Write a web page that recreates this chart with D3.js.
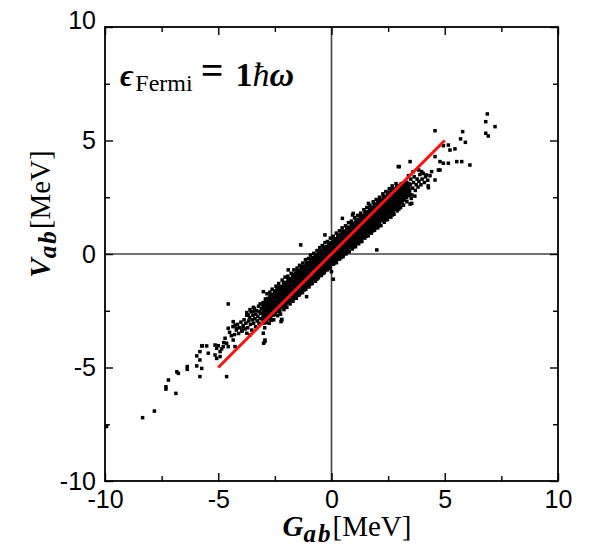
<!DOCTYPE html>
<html>
<head>
<meta charset="utf-8">
<script src="https://cdn.jsdelivr.net/npm/d3@7"></script>
<style>
  body { margin: 0; background: #fff; }
</style>
</head>
<body>
<div id="chart"></div>
<script>
// tick values
const majorTicks = [-10, -5, 0, 5, 10];
const minorTicks = [-7.5, -2.5, 2.5, 7.5];

// red reference line V = G
const fitG = [-5, 5];
const fitV = [-5, 5];

// dense middle of the cloud, one G column with its V values
const coreCols = [
  [-3.0, [-3.02,-2.84,-2.67,-2.50,-2.33,-2.16]],
  [-2.9, [-3.00,-2.83,-2.66,-2.49,-2.32,-2.15,-2.00]],
  [-2.8, [-2.84,-2.66,-2.49,-2.32,-2.15,-1.98]],
  [-2.7, [-2.83,-2.66,-2.49,-2.32,-2.15,-1.98,-1.83]],
  [-2.6, [-2.67,-2.49,-2.32,-2.15,-1.98,-1.81]],
  [-2.5, [-2.65,-2.48,-2.31,-2.14,-1.97,-1.80,-1.65]],
  [-2.4, [-2.49,-2.31,-2.14,-1.97,-1.80,-1.63]],
  [-2.3, [-2.47,-2.30,-2.13,-1.96,-1.79,-1.62,-1.47]],
  [-2.2, [-2.32,-2.14,-1.97,-1.80,-1.63,-1.46]],
  [-2.1, [-2.30,-2.13,-1.96,-1.79,-1.62,-1.45,-1.30]],
  [-2.0, [-2.14,-1.96,-1.79,-1.62,-1.45,-1.28]],
  [-1.9, [-2.12,-1.95,-1.78,-1.61,-1.44,-1.27,-1.12]],
  [-1.8, [-1.96,-1.78,-1.61,-1.44,-1.27,-1.10]],
  [-1.7, [-1.95,-1.78,-1.61,-1.44,-1.27,-1.10,-0.95]],
  [-1.6, [-1.79,-1.61,-1.44,-1.27,-1.10,-0.93]],
  [-1.5, [-1.77,-1.60,-1.43,-1.26,-1.09,-0.92,-0.77]],
  [-1.4, [-1.61,-1.43,-1.26,-1.09,-0.92,-0.75]],
  [-1.3, [-1.59,-1.42,-1.25,-1.08,-0.91,-0.74,-0.59]],
  [-1.2, [-1.44,-1.26,-1.09,-0.92,-0.75,-0.58]],
  [-1.1, [-1.42,-1.25,-1.08,-0.91,-0.74,-0.57,-0.42]],
  [-1.0, [-1.26,-1.08,-0.91,-0.74,-0.57,-0.40]],
  [-0.9, [-1.24,-1.07,-0.90,-0.73,-0.56,-0.39,-0.24]],
  [-0.8, [-1.08,-0.90,-0.73,-0.56,-0.39,-0.22]],
  [-0.7, [-1.07,-0.90,-0.73,-0.56,-0.39,-0.22,-0.07]],
  [-0.6, [-0.91,-0.73,-0.56,-0.39,-0.22,-0.05]],
  [-0.5, [-0.89,-0.72,-0.55,-0.38,-0.21,-0.04,0.11]],
  [-0.4, [-0.73,-0.55,-0.38,-0.21,-0.04,0.13]],
  [-0.3, [-0.71,-0.54,-0.37,-0.20,-0.03,0.14,0.29]],
  [-0.2, [-0.56,-0.38,-0.21,-0.04,0.13,0.30]],
  [-0.1, [-0.54,-0.37,-0.20,-0.03,0.14,0.31,0.46]],
  [0.0, [-0.38,-0.20,-0.03,0.14,0.31,0.48]],
  [0.1, [-0.36,-0.19,-0.02,0.15,0.32,0.49,0.64]],
  [0.2, [-0.21,-0.03,0.14,0.31,0.48,0.65]],
  [0.3, [-0.19,-0.02,0.15,0.32,0.49,0.66,0.81]],
  [0.4, [-0.04,0.14,0.31,0.48,0.65,0.82]],
  [0.5, [-0.02,0.15,0.32,0.49,0.66,0.83,0.98]],
  [0.6, [0.13,0.31,0.48,0.65,0.82,0.99]],
  [0.7, [0.15,0.32,0.49,0.66,0.83,1.00,1.15]],
  [0.8, [0.30,0.48,0.65,0.82,0.99,1.16]],
  [0.9, [0.32,0.49,0.66,0.83,1.00,1.17,1.32]],
  [1.0, [0.47,0.65,0.82,0.99,1.16,1.33]],
  [1.1, [0.49,0.66,0.83,1.00,1.17,1.34,1.49]],
  [1.2, [0.64,0.82,0.99,1.16,1.33,1.50]],
  [1.3, [0.66,0.83,1.00,1.17,1.34,1.51,1.66]],
  [1.4, [0.81,0.99,1.16,1.33,1.50,1.67]],
  [1.5, [0.83,1.00,1.17,1.34,1.51,1.68,1.83]],
  [1.6, [0.98,1.16,1.33,1.50,1.67,1.84]],
  [1.7, [1.00,1.17,1.34,1.51,1.68,1.85,2.00]],
  [1.8, [1.15,1.33,1.50,1.67,1.84,2.01]],
  [1.9, [1.17,1.34,1.51,1.68,1.85,2.02,2.17]],
  [2.0, [1.32,1.50,1.67,1.84,2.01,2.18]],
  [2.1, [1.34,1.51,1.68,1.85,2.02,2.19,2.34]],
  [2.2, [1.49,1.67,1.84,2.01,2.18,2.35]],
  [2.3, [1.51,1.68,1.85,2.02,2.19,2.36,2.51]],
  [2.4, [1.66,1.84,2.01,2.18,2.35,2.52]],
  [2.5, [1.68,1.85,2.02,2.19,2.36,2.53,2.68]],
  [2.6, [1.83,2.01,2.18,2.35,2.52,2.69]],
  [2.7, [1.85,2.02,2.19,2.36,2.53,2.70,2.85]],
  [2.8, [2.00,2.18,2.35,2.52,2.69,2.86]],
  [2.9, [2.08,2.23,2.38,2.53,2.68,2.83,2.96]],
  [3.0, [2.20,2.36,2.52,2.68,2.84,3.00]],
  [3.1, [2.30,2.46,2.62,2.78,2.94,3.08]],
  [3.2, [2.40,2.56,2.72,2.88,3.04]],
  [3.3, [2.50,2.66,2.82,2.98,3.14]],
  [3.4, [2.60,2.76,2.92,3.08]]
];

// ragged edges of the band
const edgePts = [
  [-2.85,-1.75],[-2.62,-1.55],[-2.45,-1.42],[-2.33,-1.30],[-2.18,-1.15],[-2.05,-1.02],
  [-1.93,-0.98],[-1.78,-0.85],[-1.66,-0.70],[-1.52,-0.62],[-1.41,-0.50],[-1.27,-0.40],
  [-1.15,-0.25],[-1.02,-0.20],[-0.93,-0.05],[-0.78,0.03],[-0.64,0.15],[-0.52,0.28],
  [-0.41,0.37],[-0.29,0.50],[-0.18,0.55],[-0.05,0.70],[0.08,0.78],[0.21,0.92],
  [0.35,1.02],[0.47,1.15],[0.62,1.24],[0.75,1.38],[0.88,1.45],[1.02,1.60],
  [1.15,1.70],[1.29,1.80],[1.43,1.95],[1.56,2.05],[1.70,2.15],[1.84,2.30],
  [1.97,2.40],[2.12,2.50],[2.27,2.65],[2.40,2.75],[2.55,2.88],[2.68,3.00],[2.85,3.10],
  [-2.72,-1.68],[-2.40,-1.55],[-2.10,-1.25],[-1.86,-1.10],[-1.60,-0.85],[-1.34,-0.60],
  [-1.08,-0.38],[-0.84,-0.16],[-0.58,0.05],[-0.36,0.22],[-0.12,0.42],[0.14,0.60],
  [0.41,0.86],[0.68,1.10],[0.95,1.28],[1.22,1.52],[1.50,1.80],[1.77,2.02],[2.05,2.27],
  [2.33,2.50],[2.60,2.76],
  [-2.95,-3.25],[-2.75,-3.05],[-2.55,-2.90],[-2.38,-2.72],[-2.25,-2.65],[-2.10,-2.45],
  [-1.97,-2.35],[-1.83,-2.20],[-1.70,-2.08],[-1.55,-1.95],[-1.42,-1.80],[-1.28,-1.70],
  [-1.13,-1.55],[-0.99,-1.45],[-0.85,-1.30],[-0.71,-1.20],[-0.58,-1.05],[-0.45,-0.95],
  [-0.32,-0.82],[-0.19,-0.70],[-0.06,-0.60],[0.09,-0.45],[0.22,-0.38],[0.36,-0.22],
  [0.51,-0.12],[0.64,0.00],[0.78,0.10],[0.92,0.22],[1.06,0.32],[1.20,0.45],
  [1.34,0.55],[1.47,0.70],[1.62,0.80],[1.76,0.92],[1.90,1.05],[2.04,1.15],
  [2.18,1.25],[2.33,1.40],[2.47,1.52],[2.62,1.62],[2.76,1.75],[2.90,1.90],
  [3.05,2.05],[3.18,2.15],[3.33,2.30],
  [-2.66,-2.92],[-2.30,-2.55],[-2.02,-2.30],[-1.76,-2.05],[-1.48,-1.82],[-1.20,-1.58],
  [-0.92,-1.32],[-0.64,-1.10],[-0.38,-0.86],[-0.12,-0.64],[0.15,-0.38],[0.43,-0.15],
  [0.70,0.08],[0.98,0.32],[1.26,0.55],[1.54,0.78],[1.82,1.02],[2.10,1.25],[2.40,1.50],
  [2.68,1.72],[2.97,1.98]
];

// lower-left part of the cloud and its tail
const leftPts = [
  [-3.10,-2.40],[-3.12,-2.62],[-3.15,-2.85],[-3.18,-2.55],[-3.22,-2.30],[-3.25,-2.75],
  [-3.28,-2.95],[-3.30,-2.50],[-3.34,-2.65],[-3.38,-2.85],[-3.40,-2.40],[-3.44,-3.05],
  [-3.47,-2.70],[-3.50,-2.90],[-3.55,-2.55],[-3.58,-3.10],[-3.62,-2.80],[-3.66,-2.95],
  [-3.70,-3.25],[-3.74,-2.70],[-3.78,-3.05],[-3.82,-3.30],[-3.86,-2.90],[-3.90,-3.15],
  [-3.95,-3.40],[-4.00,-3.00],[-4.05,-3.25],[-4.10,-3.50],[-4.15,-3.10],[-4.20,-3.35],
  [-4.28,-3.55],[-4.35,-3.20],[-4.42,-3.60],[-4.50,-3.45],[-3.20,-3.05],[-3.35,-3.20],
  [-3.52,-3.35],[-3.15,-2.20],[-3.45,-2.35],[-3.60,-2.45],
  [-3.01,-1.66],[-4.56,-2.20],[-3.74,-2.58],[-3.67,-2.69],[-3.45,-2.54],[-4.34,-2.98],
  [-4.26,-3.13],[-4.56,-3.27],[-4.19,-3.27],[-3.89,-3.20],[-3.96,-3.35],[-3.74,-3.49],
  [-3.60,-3.57],[-3.01,-3.49],[-2.94,-3.79],[-2.94,-3.86],[-2.20,-2.91],[-4.70,-3.71],
  [-4.63,-3.93],[-4.56,-4.08],[-4.78,-4.08],[-4.34,-3.79],[-4.26,-4.08],[-5.14,-4.01],
  [-5.07,-4.15],[-4.92,-4.30],[-5.14,-4.45],[-5.07,-4.60],[-4.92,-4.52],[-5.51,-4.05],
  [-5.73,-4.05],[-5.81,-4.30],[-5.44,-4.37],[-5.95,-4.49],[-5.81,-4.67],[-4.63,-5.40],
  [-5.81,-5.40],[-5.95,-4.93],[-5.73,-5.04],[-6.37,-4.96],[-6.37,-5.08],[-6.83,-5.19],
  [-6.76,-5.26],[-7.20,-5.55],[-6.87,-6.14],[-7.31,-5.85],[-7.31,-5.95],[-7.82,-6.92],
  [-8.34,-7.21],[-9.93,-7.60],[-4.85,-4.18],[-4.76,-3.90],[-5.00,-4.04],[-5.70,-4.04]
];

// upper-right part of the cloud and its tail
const rightPts = [
  [3.45,2.75],[3.48,3.05],[3.50,3.30],[3.55,2.60],[3.58,2.90],[3.62,3.15],[3.65,3.40],
  [3.70,2.80],[3.74,3.05],[3.78,3.30],[3.82,2.95],[3.86,3.20],[3.90,3.50],[3.95,3.05],
  [4.00,3.30],[4.05,3.55],[4.10,3.15],[4.15,3.40],[3.52,2.45],[3.68,2.55],[3.40,3.45],
  [3.60,3.62],[3.85,3.70],[4.25,3.25],[4.35,3.45],
  [3.47,4.07],[2.95,3.85],[2.99,3.85],[4.57,5.43],[5.79,5.39],[5.70,5.07],[5.91,4.92],
  [5.16,4.80],[5.23,4.58],[5.45,4.63],[4.94,4.77],[5.75,4.07],[5.53,4.07],[6.11,3.92],
  [4.57,4.29],[4.79,4.07],[4.94,4.00],[5.16,4.00],[4.72,3.70],[4.42,3.63],[4.57,3.26],
  [4.28,2.92],[4.27,3.00],[3.54,2.23],[3.47,2.20],[4.20,3.48],[3.98,3.63],[4.79,3.70],
  [6.88,6.17],[6.81,5.83],[7.22,5.61],[6.81,5.32],[6.92,5.20]
];

// single points away from the band
const strayPts = [
  [-1.36,0.40],[2.00,0.18],[-1.91,-0.70],[0.00,-0.78],[0.93,1.72],[-0.29,0.84],
  [1.63,2.23],[0.48,1.57],[0.08,-1.11],[-1.10,-1.88],[-2.20,-2.88],[-2.23,-2.98],
  [-3.00,-3.93],[0.96,1.79],[-1.39,-1.73]
];

const width = 590,
      height = 552,
      margin = ({top: 27, right: 32, bottom: 71, left: 105});

const corePoints = [];
for (let c of coreCols) {
  for (let v of c[1]) corePoints.push([c[0], v]);
}
const loosePoints = [...edgePts, ...leftPts, ...rightPts, ...strayPts];

let svg = d3.select("#chart")
  .append("svg")
  .attr("width", width)
  .attr("height", height);

let x = d3.scaleLinear()
  .domain([-10, 10])
  .range([margin.left, width - margin.right]);

let y = d3.scaleLinear()
  .domain([-10, 10])
  .range([height - margin.bottom, margin.top]);

const tickFont = "'Liberation Sans', Arial, sans-serif";

// zero lines
svg.append("line")
  .attr("x1", x(0)).attr("x2", x(0))
  .attr("y1", y(-10)).attr("y2", y(10))
  .attr("stroke", "#444").attr("stroke-width", 1.6);
svg.append("line")
  .attr("x1", x(-10)).attr("x2", x(10))
  .attr("y1", y(0)).attr("y2", y(0))
  .attr("stroke", "#444").attr("stroke-width", 1.6);

// points: core drawn a bit larger so the band reads as solid
const drawPts = (data, s) => svg.append("g")
  .selectAll("rect")
  .data(data)
  .join("rect")
  .attr("x", d => x(d[0]) - s / 2)
  .attr("y", d => y(d[1]) - s / 2)
  .attr("width", s)
  .attr("height", s)
  .attr("fill", "#000");
drawPts(corePoints, 4.4);
drawPts(loosePoints, 3.5);

// red line
svg.append("line")
  .attr("x1", x(fitG[0])).attr("y1", y(fitV[0]))
  .attr("x2", x(fitG[1])).attr("y2", y(fitV[1]))
  .attr("stroke", "#ff1010")
  .attr("stroke-width", 3);

// axes, ticks point inward
const fmt = d => String(d);
const axes = [
  [d3.axisBottom(x), `translate(0,${y(-10)})`, true],
  [d3.axisTop(x), `translate(0,${y(10)})`, false],
  [d3.axisLeft(y), `translate(${x(-10)},0)`, true],
  [d3.axisRight(y), `translate(${x(10)},0)`, false]
];
for (let [ax, tr, labels] of axes) {
  let g = svg.append("g").attr("transform", tr);
  g.call(ax.tickValues(majorTicks).tickSize(-8).tickPadding(9)
    .tickFormat(labels ? fmt : ""));
  g.select(".domain").remove();
  g.selectAll("text")
    .attr("font-family", tickFont)
    .attr("font-size", 25)
    .attr("fill", "#000");
  let m = svg.append("g").attr("transform", tr);
  m.call(ax.tickValues(minorTicks).tickSize(-5).tickFormat(""));
  m.select(".domain").remove();
}
svg.selectAll(".tick line").attr("stroke-width", 1.4);
// top label of the left axis sits a little higher
svg.selectAll(".tick text").filter(function(d) {
  return d === 10 && d3.select(this).attr("x") !== null && +d3.select(this).attr("x") < 0;
}).attr("dy", "0.05em");

// frame
svg.append("rect")
  .attr("x", x(-10)).attr("y", y(10))
  .attr("width", x(10) - x(-10))
  .attr("height", y(-10) - y(10))
  .attr("fill", "none")
  .attr("stroke", "#000")
  .attr("stroke-width", 1.8);

const serif = "'Liberation Serif', 'Times New Roman', serif";

// x title
let xt = svg.append("text")
  .attr("x", 347).attr("y", 536)
  .attr("text-anchor", "middle")
  .attr("font-family", serif)
  .attr("font-size", 29);
xt.append("tspan").attr("font-weight", "bold").attr("font-style", "italic").text("G");
xt.append("tspan").attr("font-weight", "bold").attr("font-style", "italic")
  .attr("font-size", 25).attr("dy", 6).attr("letter-spacing", 2).text("ab");
xt.append("tspan").attr("dy", -6).text("[MeV]");

// y title
let yt = svg.append("text")
  .attr("transform", "translate(50,214) rotate(-90)")
  .attr("text-anchor", "middle")
  .attr("font-family", serif)
  .attr("font-size", 29);
yt.append("tspan").attr("font-weight", "bold").attr("font-style", "italic").text("V");
yt.append("tspan").attr("font-weight", "bold").attr("font-style", "italic")
  .attr("font-size", 25).attr("dy", 6).attr("letter-spacing", 2).text("ab");
yt.append("tspan").attr("dy", -6).text("[MeV]");

// annotation
let note = svg.append("text")
  .attr("x", 120).attr("y", 86)
  .attr("font-family", serif)
  .attr("font-size", 31);
note.append("tspan").attr("font-weight", "bold").attr("font-style", "italic").text("ϵ");
note.append("tspan").attr("font-size", 24).attr("dy", 5).attr("dx", 2).text("Fermi");
note.append("tspan").attr("dy", -7).attr("dx", 8).attr("font-weight", "bold")
  .attr("font-size", 40).text("=");
note.append("tspan").attr("dy", 2).attr("dx", 12).attr("font-weight", "bold")
  .attr("font-size", 34).text("1");
note.append("tspan").attr("font-style", "italic").attr("font-size", 34).text("ħ");
note.append("tspan").attr("font-weight", "bold").attr("font-style", "italic")
  .attr("font-size", 34).text("ω");
</script>
</body>
</html>
